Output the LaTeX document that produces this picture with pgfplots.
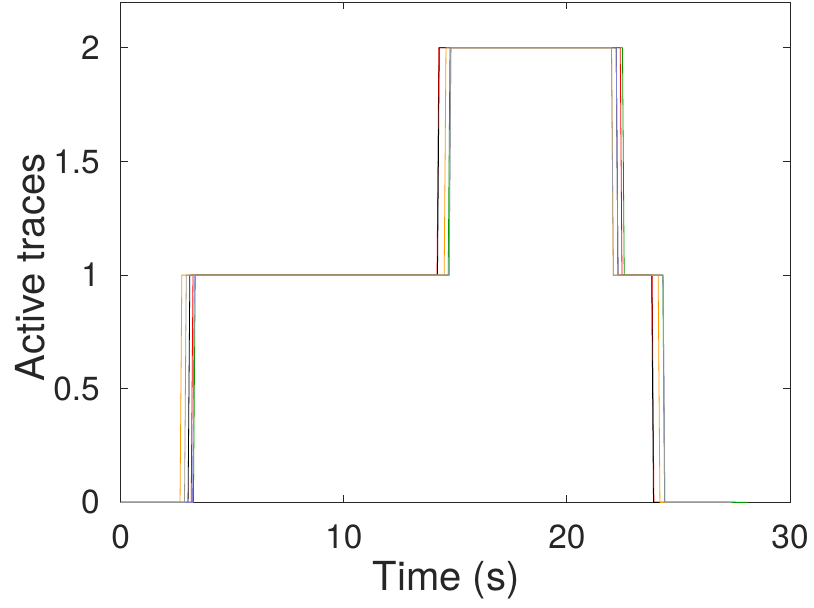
\documentclass[border=0pt]{standalone}
\usepackage{fontspec}
\setmainfont{TeX Gyre Heros}
\usepackage{pgfplots}
\pgfplotsset{compat=1.18}
\definecolor{mgray}{rgb}{0.15,0.15,0.15}
\definecolor{tgreen}{rgb}{0,0.6,0}
\definecolor{torange}{rgb}{1,0.6,0}
\definecolor{tblue}{rgb}{0.5,0.5,0.85}
\definecolor{tgray}{rgb}{0.6,0.6,0.6}
\begin{document}
\begin{tikzpicture}
\useasboundingbox (-60.35pt,-52.8pt) rectangle (346.65pt,251.2pt);
\begin{axis}[
  scale only axis,
  width=334.65pt, height=250pt,
  xmin=0, xmax=30, ymin=0, ymax=2.2,
  xtick={0,10,20,30},
  ytick={0,0.5,1,1.5,2},
  tick align=inside,
  major tick length=3.5pt,
  axis line style={mgray, line width=0.4pt},
  every tick/.style={mgray, line width=0.4pt},
  /pgf/number format/assume math mode=true,
  tick label style={font=\fontsize{16.7}{20}\selectfont, text=mgray},
  xticklabel style={anchor=north, inner sep=0pt, yshift=-11pt},
  yticklabel style={anchor=east, inner sep=0pt, xshift=-10.3pt},
  every axis x label/.style={at={(axis description cs:0.4865,-0.156)}, anchor=center, font=\fontsize{20}{24}\selectfont, text=mgray},
  every axis y label/.style={at={(axis description cs:-0.1345,0.47)}, rotate=90, anchor=center, font=\fontsize{20}{24}\selectfont, text=mgray},
  xlabel={Time (s)},
  ylabel={Active traces},
  clip=false,
]
\addplot[red, line width=0.4pt] coordinates {(0,0) (3.16,0) (3.24,1) (14.18,1) (14.26,2) (22.39,2) (22.47,1) (23.82,1) (23.90,0) (27.5,0)};
\addplot[black, line width=0.4pt] coordinates {(0,0) (3.02,0) (3.10,1) (14.20,1) (14.28,2) (22.21,2) (22.29,1) (23.80,1) (23.88,0) (27.6,0)};
\addplot[tgreen, line width=0.4pt] coordinates {(0,0) (3.26,0) (3.34,1) (14.68,1) (14.76,2) (22.49,2) (22.57,1) (24.30,1) (24.38,0) (28.1,0)};
\addplot[tblue, line width=0.4pt] coordinates {(0,0) (3.22,0) (3.30,1) (14.72,1) (14.80,2) (22.21,2) (22.29,1) (24.31,1) (24.39,0) (27.2,0)};
\addplot[torange, line width=0.4pt] coordinates {(0,0) (2.66,0) (2.74,1) (14.50,1) (14.58,2) (22.00,2) (22.08,1) (24.09,1) (24.17,0) (27.3,0)};
\addplot[tgray, line width=0.4pt] coordinates {(0,0) (2.86,0) (2.94,1) (14.72,1) (14.80,2) (22.00,2) (22.08,1) (24.31,1) (24.39,0) (27.4,0)};
\end{axis}
\end{tikzpicture}
\end{document}
